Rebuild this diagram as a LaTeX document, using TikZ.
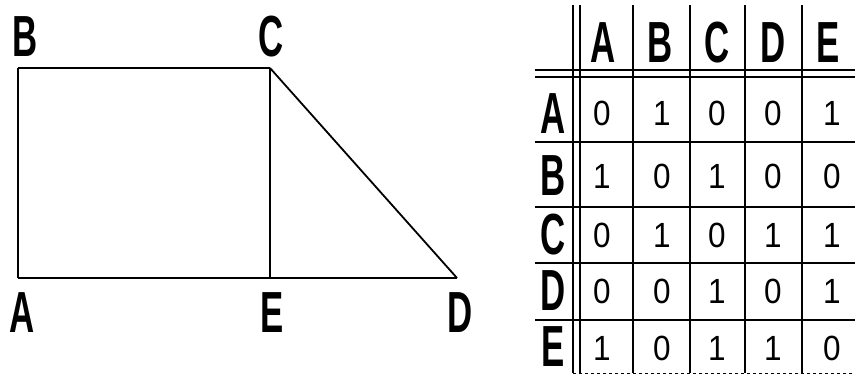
\documentclass[tikz,border=0pt]{standalone}
\usepackage{fontspec}
\usepackage{graphicx}
\setmainfont{Liberation Sans}
\newcommand{\lbl}[1]{\scalebox{0.6}[1]{\fontsize{58}{60}\selectfont\bfseries #1}}
\newcommand{\dig}[1]{\scalebox{0.9}[1]{\fontsize{35}{38}\selectfont #1}}
\tikzset{
    edge/.style={line width=1.8pt},
    grid/.style={line width=1.6pt},
    letter/.style={inner sep=0pt},
}
\begin{document}
\begin{tikzpicture}[x=1pt,y=-1pt]
    \useasboundingbox (0,0) rectangle (855,377);

    % izquierda: el grafo
    \coordinate (A) at (18,278);
    \coordinate (B) at (18,68);
    \coordinate (C) at (270,68);
    \coordinate (E) at (270,278);
    \coordinate (D) at (457,278);

    \draw[edge] (A) -- (B);
    \draw[edge] (B) -- (C);
    \draw[edge] (C) -- (E);
    \draw[edge] (A) -- (E);
    \draw[edge] (E) -- (D);
    \draw[edge] (C) -- (D);

    \node[letter] (lA) at (22,313) {\lbl{A}};
    \node[letter] (lB) at (25,37) {\lbl{B}};
    \node[letter] (lC) at (271,37) {\lbl{C}};
    \node[letter] (lE) at (272,313) {\lbl{E}};
    \node[letter] (lD) at (460,313) {\lbl{D}};

    % derecha: matriz de adyacencia
    \draw[grid] (573,5) -- (573,373);
    \draw[grid] (580,5) -- (580,373);
    \foreach \x in {633,690,745,802}
        \draw[grid] (\x,5) -- (\x,373);

    \draw[grid] (535,70) -- (855,70);
    \draw[grid] (535,77) -- (855,77);
    \foreach \y in {142,207,263,320}
        \draw[grid] (535,\y) -- (855,\y);
    \draw[line width=1pt,dashed] (573,373) -- (855,373);

    % etiquetas de columnas y filas
    \foreach \name/\x in {A/603,B/660,C/717,D/773,E/828}
        \node[letter] (col\name) at (\x,43) {\lbl{\name}};
    \foreach \name/\y in {A/114,B/176,C/235,D/291,E/347}
        \node[letter] (row\name) at (553,\y) {\lbl{\name}};

    % entradas
    \foreach \y/\vals in {113/{0,1,0,0,1},176/{1,0,1,0,0},235/{0,1,0,1,1},
                          291/{0,0,1,0,1},348/{1,0,1,1,0}} {
        \foreach \v [count=\i] in \vals {
            \pgfmathsetmacro{\cx}{{602,662,717,773,832}[\i-1]}
            \node[letter] at (\cx,\y) {\dig{\v}};
        }
    }

\end{tikzpicture}
\end{document}
